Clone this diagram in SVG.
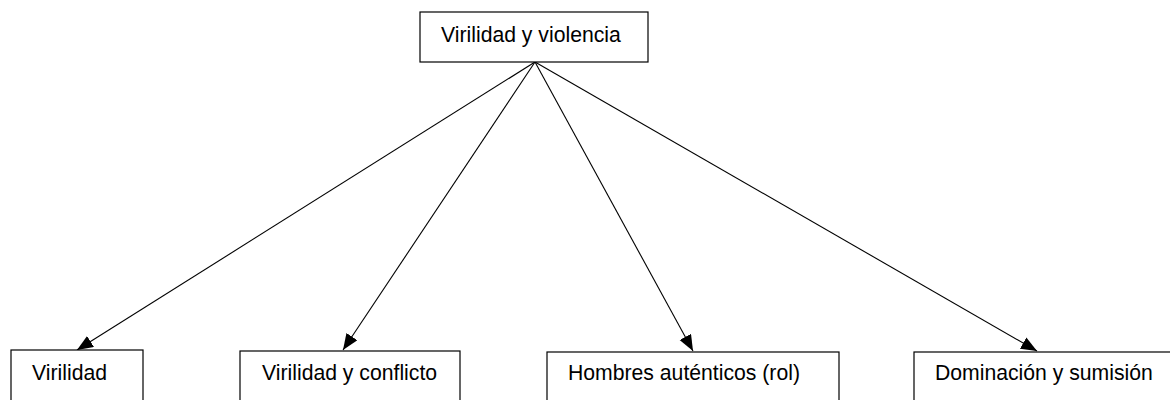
<svg xmlns="http://www.w3.org/2000/svg" width="1170" height="400" viewBox="0 0 1170 400">
<style>
.box{fill:#fff;stroke:#000;stroke-width:1.2}
.lbl{font-family:"Liberation Sans",Arial,sans-serif;font-size:21.2px;fill:#000}
.edge{stroke:#000;stroke-width:1.1;fill:none}
</style>
<defs>
<marker id="ah" markerUnits="userSpaceOnUse" markerWidth="18" markerHeight="14" refX="16" refY="6.5" orient="auto">
<path d="M0,0 L16,6.5 L0,13 Z" fill="#000"/>
</marker>
</defs>
<rect width="1170" height="400" fill="#fff"/>
<g id="connectors">
<line class="edge" x1="535" y1="62" x2="77" y2="350" marker-end="url(#ah)"/>
<line class="edge" x1="535" y1="62" x2="343" y2="350" marker-end="url(#ah)"/>
<line class="edge" x1="535" y1="62" x2="693" y2="351" marker-end="url(#ah)"/>
<line class="edge" x1="535" y1="62" x2="1037" y2="351" marker-end="url(#ah)"/>
</g>
<g id="root">
<rect class="box" x="420" y="12" width="228" height="50"/>
<text class="lbl" x="441" y="42">Virilidad y violencia</text>
</g>
<g id="n1">
<rect class="box" x="11" y="350" width="132" height="60"/>
<text class="lbl" x="32" y="380">Virilidad</text>
</g>
<g id="n2">
<rect class="box" x="240" y="351" width="220" height="60"/>
<text class="lbl" x="262" y="380">Virilidad y conflicto</text>
</g>
<g id="n3">
<rect class="box" x="547" y="352" width="292" height="60"/>
<text class="lbl" x="568" y="380">Hombres auténticos (rol)</text>
</g>
<g id="n4">
<rect class="box" x="914" y="352" width="270" height="60"/>
<text class="lbl" x="935" y="380">Dominación y sumisión</text>
</g>
</svg>
